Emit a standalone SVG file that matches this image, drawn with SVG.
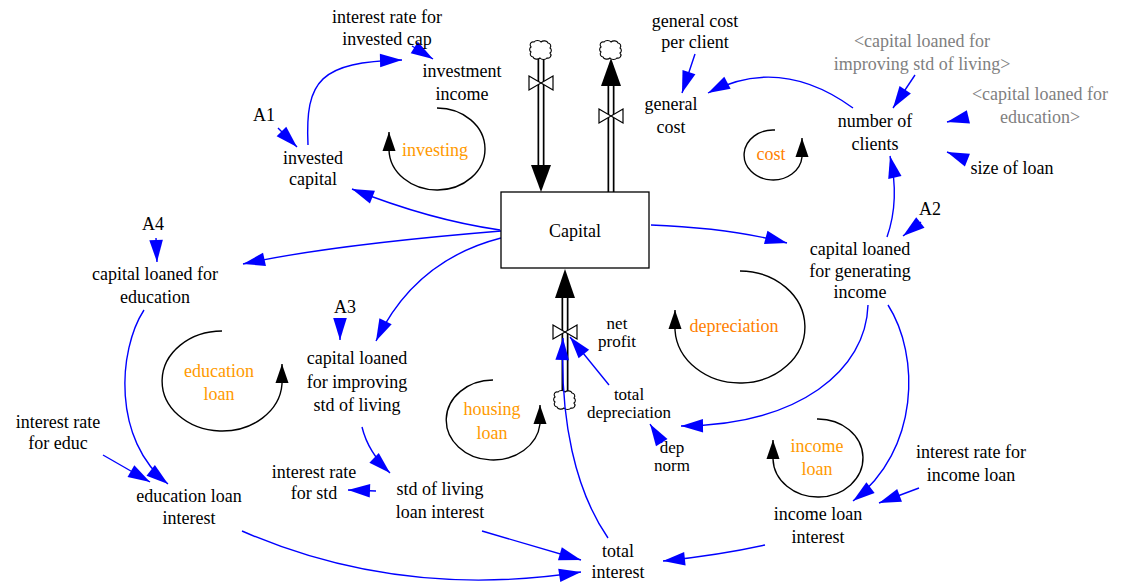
<svg xmlns="http://www.w3.org/2000/svg" width="1123" height="584" viewBox="0 0 1123 584" font-family="'Liberation Serif', 'DejaVu Serif', serif">
<style>
text{font-family:'Liberation Serif','DejaVu Serif',serif;font-size:18px;fill:#000;text-anchor:middle}
.s{font-size:17px}
.g{fill:#808080}
.o{fill:#FF9A00}
.o2{fill:#FF8000}
.c{fill:none;stroke:#0000FF;stroke-width:1.4;marker-end:url(#ab)}
.lp{fill:none;stroke:#000;stroke-width:1.4;marker-end:url(#lb)}
.po{stroke:#000;stroke-width:7;fill:none}
.pi{stroke:#fff;stroke-width:3.6;fill:none}
.v{fill:#fff;stroke:#000;stroke-width:1.2}
.cl{fill:#fff;stroke:#000;stroke-width:1.1}
</style>
<defs>
<marker id="ab" viewBox="-23 -8 24 16" refX="0" refY="0" markerWidth="24" markerHeight="16" markerUnits="userSpaceOnUse" orient="auto"><path d="M0,0 L-22,-6.8 L-22,6.8 z" fill="#0000FF"/></marker>
<marker id="lb" viewBox="-20 -8 21 16" refX="0" refY="0" markerWidth="21" markerHeight="16" markerUnits="userSpaceOnUse" orient="auto"><path d="M0,0 L-19,-6.5 L-19,6.5 z" fill="#000"/></marker>
<path id="cloud" d="M-10,-3 a3,3 0 0 1 3,-5 a4,3 0 0 1 7,0 a4,3 0 0 1 7,1 a3,3 0 0 1 2,5 a3,3 0 0 1 0,5 a3,3 0 0 1 -3,5 a4,3 0 0 1 -7,0 a4,3 0 0 1 -7,-1 a3,3 0 0 1 -2,-5 a3,3 0 0 1 0,-5 z"/>
<path id="valve" d="M-12,-7 L12,7 L12,-7 L-12,7 z"/>
</defs>

<g id="flows">
  <g id="flow-in-top">
    <line class="po" x1="541" y1="58" x2="541" y2="168"/>
    <line class="pi" x1="541" y1="56" x2="541" y2="168"/>
    <path d="M541,192 L531,165 L551,165 z" fill="#000"/>
    <use href="#valve" class="v" x="541" y="83"/>
    <use href="#cloud" class="cl" x="541" y="50"/>
  </g>
  <g id="flow-out-top">
    <line class="po" x1="611" y1="84" x2="611" y2="192"/>
    <line class="pi" x1="611" y1="84" x2="611" y2="194"/>
    <path d="M611,58 L601,86 L621,86 z" fill="#000"/>
    <use href="#valve" class="v" x="611" y="116"/>
    <use href="#cloud" class="cl" x="611" y="50"/>
  </g>
  <g id="flow-net-profit">
    <line class="po" x1="565" y1="296" x2="565" y2="393"/>
    <line class="pi" x1="565" y1="296" x2="565" y2="395"/>
    <path d="M565,269 L555,298 L575,298 z" fill="#000"/>
    <use href="#valve" class="v" x="565" y="332"/>
    <use href="#cloud" class="cl" x="565" y="400"/>
  </g>
</g>

<g id="connectors">
  <path class="c" d="M500,230 Q430,220 352,189"/>
  <path class="c" d="M501,231 Q330,245 243,264"/>
  <path class="c" d="M501,238 Q415,260 376,341"/>
  <path class="c" d="M651,225 Q730,228 787,243"/>
  <path class="c" d="M887,237 Q900,200 890,156"/>
  <path class="c" d="M921,222 L903,236"/>
  <path class="c" d="M853,108 Q780,55 708,93"/>
  <path class="c" d="M695,54 L682,93"/>
  <path class="c" d="M915,75 L893,108"/>
  <path class="c" d="M968,117 L947,122"/>
  <path class="c" d="M967,160 L947,152"/>
  <path class="c" d="M278,128 L297,147"/>
  <path class="c" d="M308,145 C305,80 320,62 402,60"/>
  <path class="c" d="M412,46 L433,59"/>
  <path class="c" d="M868,305 C866,370 800,425 681,426"/>
  <path class="c" d="M888,305 C920,355 920,450 853,501"/>
  <path class="c" d="M919,488 L879,503"/>
  <path class="c" d="M765,545 Q720,555 663,561"/>
  <path class="c" d="M662,443 L650,424"/>
  <path class="c" d="M609,385 L570,337"/>
  <path class="c" d="M608,538 C575,490 560,420 563,338"/>
  <path class="c" d="M482,531 Q530,545 581,560"/>
  <path class="c" d="M242,531 Q400,600 581,572"/>
  <path class="c" d="M144,310 C118,350 112,440 168,484"/>
  <path class="c" d="M103,455 L150,482"/>
  <path class="c" d="M156,238 L157,262"/>
  <path class="c" d="M340,318 L340,340"/>
  <path class="c" d="M362,427 Q368,452 390,473"/>
  <path class="c" d="M376,491 L348,490"/>
</g>

<g id="loops">
  <g id="loop-investing"><path class="lp" d="M437,108 A48,41 0 1 1 389,150 L389,132"/><text class="o" x="435" y="156">investing</text></g>
  <g id="loop-cost"><path class="lp" d="M775,130 A29,25 0 1 0 802,157 L802,138"/><text class="o2" x="771" y="160">cost</text></g>
  <g id="loop-depreciation"><path class="lp" d="M740,271 A65,56 0 1 1 675,330 L675,310"/><text class="o2" x="734" y="332">depreciation</text></g>
  <g id="loop-education"><path class="lp" d="M222,331 A60,50 0 1 0 282,384 L282,364"/><text class="o" x="219" y="377">education</text><text class="o" x="219" y="400">loan</text></g>
  <g id="loop-housing"><path class="lp" d="M493,380 A47,40 0 1 0 540,424 L540,405"/><text class="o" x="492" y="415">housing</text><text class="o" x="492" y="439">loan</text></g>
  <g id="loop-income"><path class="lp" d="M817,419 A45,39 0 1 1 773,459 L773,440"/><text class="o" x="817" y="452">income</text><text class="o" x="817" y="475">loan</text></g>
</g>

<g id="capital"><rect x="501" y="192" width="148" height="76" fill="#fff" stroke="#000" stroke-width="1.3"/><text x="575" y="237">Capital</text></g>
<g id="interest-rate-invested"><text x="387" y="23">interest rate for</text><text x="387" y="45">invested cap</text></g>
<g id="investment-income"><text x="462" y="77">investment</text><text x="462" y="100">income</text></g>
<g id="A1"><text x="264" y="121">A1</text></g>
<g id="invested-capital"><text x="313" y="164">invested</text><text x="313" y="185">capital</text></g>
<g id="general-cost-per-client"><text x="695" y="27">general cost</text><text x="695" y="48">per client</text></g>
<g id="general-cost"><text x="671" y="110">general</text><text x="671" y="133">cost</text></g>
<g id="shadow-improving"><text class="g" x="922" y="47">&lt;capital loaned for</text><text class="g" x="922" y="70">improving std of living&gt;</text></g>
<g id="number-of-clients"><text x="875" y="127">number of</text><text x="875" y="150">clients</text></g>
<g id="shadow-education"><text class="g" x="1040" y="100">&lt;capital loaned for</text><text class="g" x="1040" y="123">education&gt;</text></g>
<g id="size-of-loan"><text x="1012" y="174">size of loan</text></g>
<g id="A2"><text x="930" y="215">A2</text></g>
<g id="capital-loaned-generating"><text x="860" y="255">capital loaned</text><text x="860" y="277">for generating</text><text x="860" y="298">income</text></g>
<g id="A4"><text x="153" y="230">A4</text></g>
<g id="capital-loaned-education"><text x="155" y="280">capital loaned for</text><text x="155" y="303">education</text></g>
<g id="A3"><text x="345" y="313">A3</text></g>
<g id="capital-loaned-improving"><text x="357" y="364">capital loaned</text><text x="357" y="388">for improving</text><text x="357" y="411">std of living</text></g>
<g id="net-profit"><text class="s" x="617" y="329">net</text><text class="s" x="617" y="347">profit</text></g>
<g id="total-depreciation"><text class="s" x="629" y="400">total</text><text class="s" x="629" y="418">depreciation</text></g>
<g id="interest-rate-educ"><text x="58" y="428">interest rate</text><text x="58" y="449">for educ</text></g>
<g id="dep-norm"><text class="s" x="672" y="453">dep</text><text class="s" x="672" y="471">norm</text></g>
<g id="interest-rate-std"><text x="314" y="478">interest rate</text><text x="314" y="499">for std</text></g>
<g id="interest-rate-income"><text x="971" y="458">interest rate for</text><text x="971" y="481">income loan</text></g>
<g id="std-loan-interest"><text x="440" y="495">std of living</text><text x="440" y="518">loan interest</text></g>
<g id="education-loan-interest"><text x="189" y="502">education loan</text><text x="189" y="524">interest</text></g>
<g id="income-loan-interest"><text x="818" y="520">income loan</text><text x="818" y="543">interest</text></g>
<g id="total-interest"><text x="618" y="557">total</text><text x="618" y="578">interest</text></g>
</svg>
